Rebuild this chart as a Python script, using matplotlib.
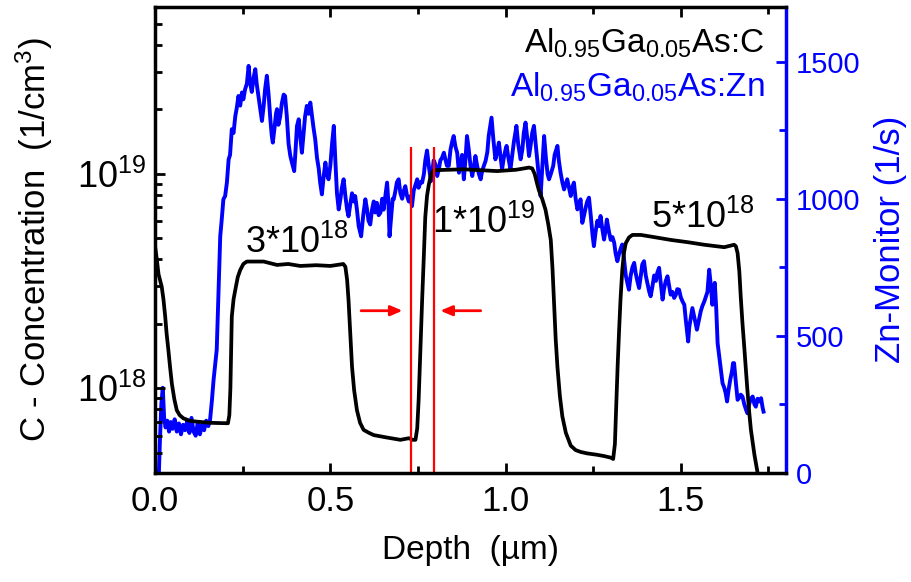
import matplotlib
matplotlib.use('Agg')
import matplotlib.pyplot as plt
from matplotlib.ticker import MultipleLocator, LogLocator, NullFormatter

plt.rcParams['font.family'] = ['Liberation Sans', 'DejaVu Sans']
plt.rcParams['mathtext.fontset'] = 'custom'
plt.rcParams['mathtext.rm'] = 'Liberation Sans'
plt.rcParams['mathtext.it'] = 'Liberation Sans:italic'
plt.rcParams['mathtext.bf'] = 'Liberation Sans:bold'

# C concentration (SIMS), left log axis
c_depth = [0.000, 0.005, 0.010, 0.019, 0.024, 0.029, 0.033, 0.038, 0.043, 0.048,
           0.055, 0.062, 0.070, 0.081, 0.100, 0.119, 0.160, 0.208, 0.212, 0.215,
           0.219, 0.224, 0.229, 0.236, 0.243, 0.252, 0.262, 0.310, 0.348, 0.380,
           0.414, 0.460, 0.500, 0.529, 0.537, 0.543, 0.548, 0.552, 0.557, 0.562,
           0.568, 0.576, 0.585, 0.595, 0.610, 0.624, 0.660, 0.700, 0.724, 0.735,
           0.743, 0.748, 0.752, 0.757, 0.762, 0.767, 0.771, 0.776, 0.781, 0.788,
           0.795, 0.881, 0.930, 0.976, 1.030, 1.067, 1.076, 1.083, 1.090, 1.095,
           1.105, 1.114, 1.122, 1.129, 1.134, 1.138, 1.143, 1.148, 1.155, 1.162,
           1.172, 1.186, 1.200, 1.214, 1.233, 1.260, 1.281, 1.300, 1.307, 1.312,
           1.316, 1.320, 1.324, 1.328, 1.333, 1.338, 1.343, 1.352, 1.362, 1.386,
           1.430, 1.471, 1.520, 1.567, 1.624, 1.652, 1.657, 1.662, 1.667, 1.671,
           1.676, 1.681, 1.686, 1.690, 1.695, 1.700, 1.710, 1.719, 1.728]
c_conc = [4.6e18, 4.0e18, 3.4e18, 2.98e18, 2.6e18, 2.16e18, 1.8e18, 1.51e18, 1.25e18, 1.05e18,
          8.9e17, 7.9e17, 7.5e17, 7.24e17, 7.05e17, 6.99e17, 6.9e17, 6.87e17, 7.5e17, 1.0e18,
          2.16e18, 2.6e18, 2.88e18, 3.3e18, 3.56e18, 3.8e18, 3.9e18, 3.9e18, 3.76e18, 3.8e18,
          3.72e18, 3.75e18, 3.72e18, 3.78e18, 3.8e18, 3.69e18, 3.2e18, 2.58e18, 1.8e18, 1.26e18,
          9.8e17, 7.9e17, 6.9e17, 6.4e17, 6.2e17, 6.05e17, 5.9e17, 5.75e17, 5.85e17, 5.75e17,
          5.75e17, 6.5e17, 8.8e17, 1.5e18, 2.58e18, 4.2e18, 6.3e18, 7.9e18, 8.9e18, 1.0e19,
          1.04e19, 1.05e19, 1.04e19, 1.03e19, 1.045e19, 1.07e19, 1.06e19, 1.0e19, 9.0e18, 8.4e18,
          7.6e18, 6.8e18, 5.8e18, 4.92e18, 3.6e18, 2.58e18, 1.7e18, 1.26e18, 9.2e17, 7.4e17,
          6.2e17, 5.4e17, 5.15e17, 5.05e17, 4.97e17, 4.9e17, 4.83e17, 4.75e17, 4.68e17, 5.5e17,
          8.5e17, 1.3e18, 1.87e18, 2.6e18, 3.56e18, 4.3e18, 4.75e18, 5.05e18, 5.19e18, 5.19e18,
          5.05e18, 4.92e18, 4.8e18, 4.67e18, 4.55e18, 4.67e18, 4.6e18, 4.27e18, 3.5e18, 2.67e18,
          2.0e18, 1.56e18, 1.2e18, 9.8e17, 7.8e17, 6.4e17, 4.9e17, 4.04e17, 3.3e17]

# Zn monitor signal, right linear axis
zn_depth = [0.011, 0.014, 0.018, 0.022, 0.026, 0.030, 0.035, 0.040, 0.045, 0.050,
            0.056, 0.062, 0.068, 0.074, 0.080, 0.086, 0.092, 0.098, 0.104, 0.110,
            0.116, 0.122, 0.128, 0.134, 0.140, 0.146, 0.152, 0.157, 0.162, 0.167,
            0.172, 0.176, 0.181, 0.186, 0.190, 0.195, 0.200, 0.205, 0.210, 0.214,
            0.219, 0.224, 0.229, 0.233, 0.238, 0.243, 0.248, 0.252, 0.257, 0.262,
            0.267, 0.271, 0.276, 0.281, 0.286, 0.290, 0.295, 0.300, 0.305, 0.310,
            0.314, 0.319, 0.324, 0.329, 0.333, 0.336, 0.341, 0.345, 0.348, 0.352,
            0.357, 0.362, 0.367, 0.371, 0.376, 0.381, 0.386, 0.391, 0.397, 0.401,
            0.405, 0.410, 0.414, 0.419, 0.424, 0.428, 0.433, 0.438, 0.443, 0.448,
            0.452, 0.457, 0.462, 0.467, 0.471, 0.476, 0.481, 0.486, 0.490, 0.495,
            0.500, 0.505, 0.510, 0.514, 0.519, 0.524, 0.529, 0.533, 0.538, 0.543,
            0.548, 0.552, 0.557, 0.562, 0.567, 0.571, 0.576, 0.581, 0.588, 0.594,
            0.600, 0.605, 0.609, 0.614, 0.619, 0.624, 0.628, 0.633, 0.638, 0.643,
            0.648, 0.652, 0.657, 0.662, 0.666, 0.669, 0.674, 0.678, 0.681, 0.686,
            0.690, 0.695, 0.700, 0.705, 0.710, 0.714, 0.719, 0.724, 0.729, 0.733,
            0.738, 0.743, 0.748, 0.752, 0.757, 0.762, 0.767, 0.771, 0.776, 0.781,
            0.787, 0.791, 0.795, 0.800, 0.805, 0.810, 0.814, 0.819, 0.824, 0.829,
            0.833, 0.838, 0.843, 0.848, 0.852, 0.857, 0.862, 0.867, 0.871, 0.876,
            0.881, 0.886, 0.890, 0.895, 0.900, 0.905, 0.910, 0.914, 0.919, 0.924,
            0.929, 0.933, 0.938, 0.943, 0.948, 0.952, 0.957, 0.960, 0.965, 0.971,
            0.976, 0.981, 0.986, 0.990, 0.995, 1.000, 1.003, 1.008, 1.014, 1.019,
            1.024, 1.028, 1.031, 1.036, 1.043, 1.048, 1.052, 1.057, 1.062, 1.067,
            1.071, 1.076, 1.081, 1.086, 1.092, 1.096, 1.100, 1.105, 1.110, 1.115,
            1.120, 1.124, 1.129, 1.136, 1.140, 1.148, 1.152, 1.157, 1.162, 1.167,
            1.171, 1.176, 1.181, 1.186, 1.190, 1.195, 1.200, 1.205, 1.210, 1.214,
            1.219, 1.224, 1.229, 1.233, 1.238, 1.243, 1.248, 1.252, 1.257, 1.262,
            1.267, 1.271, 1.276, 1.281, 1.286, 1.289, 1.295, 1.300, 1.305, 1.310,
            1.314, 1.319, 1.324, 1.329, 1.333, 1.338, 1.343, 1.348, 1.352, 1.357,
            1.362, 1.367, 1.371, 1.376, 1.381, 1.386, 1.390, 1.395, 1.400, 1.405,
            1.410, 1.414, 1.419, 1.424, 1.429, 1.433, 1.438, 1.443, 1.448, 1.452,
            1.457, 1.462, 1.467, 1.471, 1.476, 1.481, 1.486, 1.490, 1.495, 1.500,
            1.505, 1.510, 1.514, 1.521, 1.524, 1.529, 1.533, 1.538, 1.543, 1.546,
            1.552, 1.557, 1.562, 1.567, 1.571, 1.576, 1.581, 1.586, 1.590, 1.594,
            1.597, 1.601, 1.605, 1.610, 1.614, 1.619, 1.624, 1.628, 1.632, 1.636,
            1.641, 1.646, 1.649, 1.652, 1.657, 1.662, 1.667, 1.671, 1.676, 1.681,
            1.686, 1.690, 1.695, 1.700, 1.705, 1.710, 1.714, 1.719, 1.724, 1.729,
            1.733, 1.736]
zn_counts = [0, 120, 250, 310, 200, 165, 190, 150, 185, 160,
             195, 150, 180, 140, 175, 155, 190, 145, 200, 150,
             135, 185, 140, 175, 155, 190, 170, 193, 260, 339,
             400, 449, 650, 863, 920, 998, 1010, 1059, 1144, 1160,
             1254, 1240, 1302, 1330, 1375, 1340, 1388, 1363, 1400, 1420,
             1485, 1424, 1390, 1440, 1473, 1420, 1375, 1330, 1284, 1340,
             1400, 1449, 1380, 1290, 1230, 1205, 1260, 1310, 1327, 1270,
             1300, 1350, 1380, 1375, 1300, 1200, 1156, 1130, 1101, 1180,
             1266, 1290, 1230, 1168, 1240, 1300, 1339, 1310, 1351, 1300,
             1260, 1217, 1150, 1110, 1060, 1016, 1080, 1132, 1090, 1071,
             1120, 1200, 1266, 1150, 1020, 961, 1000, 1040, 1071, 1010,
             960, 936, 980, 1020, 990, 1010, 960, 900, 863, 940,
             998, 960, 920, 906, 960, 990, 950, 985, 940, 949,
             1000, 960, 1010, 1059, 980, 863, 940, 1000, 998, 1030,
             1060, 1071, 1020, 1000, 1030, 1046, 1010, 990, 1010, 973,
             1030, 1050, 1071, 1040, 1060, 1059, 1090, 1140, 1176, 1120,
             1064, 1100, 1140, 1125, 1083, 1110, 1140, 1150, 1168, 1140,
             1120, 1120, 1180, 1210, 1229, 1190, 1168, 1095, 1120, 1160,
             1071, 1150, 1229, 1180, 1120, 1083, 1120, 1156, 1120, 1090,
             1071, 1100, 1120, 1138, 1170, 1230, 1270, 1296, 1220, 1144,
             1170, 1205, 1150, 1107, 1150, 1180, 1193, 1150, 1107, 1160,
             1210, 1240, 1266, 1200, 1144, 1180, 1240, 1278, 1220, 1156,
             1190, 1240, 1266, 1200, 1120, 1060, 1010, 1120, 1229, 1150,
             1090, 1071, 1090, 1120, 1160, 1193, 1140, 1095, 1060, 1034,
             1050, 1071, 1040, 1010, 1040, 1059, 1000, 961, 980, 998,
             912, 940, 970, 990, 1004, 940, 870, 827, 880, 920,
             900, 937, 890, 851, 890, 924, 880, 850, 860, 839,
             800, 772, 800, 820, 833, 780, 720, 690, 668, 720,
             750, 766, 730, 700, 674, 720, 760, 772, 720, 690,
             660, 644, 680, 720, 700, 730, 748, 690, 632, 670,
             700, 717, 680, 650, 660, 638, 650, 670, 668, 640,
             625, 613, 560, 479, 530, 570, 601, 570, 540, 522,
             560, 590, 610, 625, 640, 660, 741, 680, 613, 660,
             693, 600, 473, 420, 380, 327, 310, 290, 260, 300,
             339, 370, 400, 400, 330, 266, 275, 285, 278, 250,
             230, 217, 250, 270, 278, 250, 241, 270, 260, 272,
             240, 223]

# layer labels (depth, baseline concentration)
layer_text = ['3*10$^{18}$', '1*10$^{19}$', '5*10$^{18}$']
layer_x = [0.406, 0.938, 1.563]
layer_y = [4.28e18, 5.28e18, 5.58e18]

# transition width markers
marker_x = [0.729, 0.795]
marker_top = 1.34e19
arrow_y = 2.3e18

fig = plt.figure(figsize=(9.12, 5.82), dpi=100)
ax = fig.add_axes([0.17, 0.1878, 0.6918, 0.8002])
ax2 = ax.twinx()
ax.set_zorder(ax2.get_zorder() + 1)
ax.patch.set_visible(False)

ymin, ymax = 4.04e17, 6.0e19

ax2.plot(zn_depth, zn_counts, color='#0000ff', lw=2.8, solid_joinstyle='round')
ax.plot(c_depth, c_conc, color='black', lw=2.7)
ax.vlines(marker_x, ymin, marker_top, color='#ff0000', lw=1.6)
ax.annotate('', xy=(0.714, arrow_y), xytext=(0.58, arrow_y),
            arrowprops=dict(arrowstyle='-|>,head_length=0.7,head_width=0.3', color='#ff0000', lw=2))
ax.annotate('', xy=(0.806, arrow_y), xytext=(0.937, arrow_y),
            arrowprops=dict(arrowstyle='-|>,head_length=0.7,head_width=0.3', color='#ff0000', lw=2))

for t, x, y in zip(layer_text, layer_x, layer_y):
    ax.text(x, y, t, fontsize=26, ha='center', va='baseline')

ax.text(0.9667, 0.903, 'Al$_{0.95}$Ga$_{0.05}$As:C', transform=ax.transAxes,
        fontsize=24, ha='right', va='baseline', color='black')
ax.text(0.9667, 0.807, 'Al$_{0.95}$Ga$_{0.05}$As:Zn', transform=ax.transAxes,
        fontsize=24, ha='right', va='baseline', color='#0000ff')

ax.set_yscale('log')
ax.set_ylim(ymin, ymax)
ax.set_xlim(0, 1.8)
ax2.set_ylim(0, 1700)

ax.xaxis.set_minor_locator(MultipleLocator(0.25))
ax.set_xticks([0, 0.5, 1.0, 1.5])
ax.set_xticklabels(['0.0', '0.5', '1.0', '1.5'])
ax.yaxis.set_major_locator(LogLocator(base=10))
ax.yaxis.set_minor_locator(LogLocator(base=10, subs=range(2, 10)))
ax.yaxis.set_minor_formatter(NullFormatter())
ax2.yaxis.set_major_locator(MultipleLocator(500))
ax2.yaxis.set_minor_locator(MultipleLocator(250))

for s in ax.spines.values():
    s.set_linewidth(2.5)
ax.spines['right'].set_visible(False)
for s in ax2.spines.values():
    s.set_visible(False)
ax2.spines['right'].set_visible(True)
ax2.spines['right'].set_color('#0000ff')
ax2.spines['right'].set_linewidth(2.5)

ax.tick_params(which='both', direction='in', top=True, right=False, width=2)
ax.tick_params(which='major', length=7.5)
ax.tick_params(which='minor', length=5)
ax.tick_params(axis='x', labelsize=25, pad=9)
ax.tick_params(axis='y', labelsize=26, pad=6)
ax2.tick_params(which='both', direction='in', colors='#0000ff', width=2)
ax2.tick_params(which='major', length=7.5, labelsize=21, pad=7)
ax2.tick_params(which='minor', length=5)

ax.set_xlabel('Depth  (µm)', fontsize=24, labelpad=12)
ax.set_ylabel('C - Concentration  (1/cm$^3$)', fontsize=25, labelpad=16)
ax2.set_ylabel('Zn-Monitor (1/s)', fontsize=25, color='#0000ff', labelpad=10)

fig.savefig('out.png', dpi=100)
